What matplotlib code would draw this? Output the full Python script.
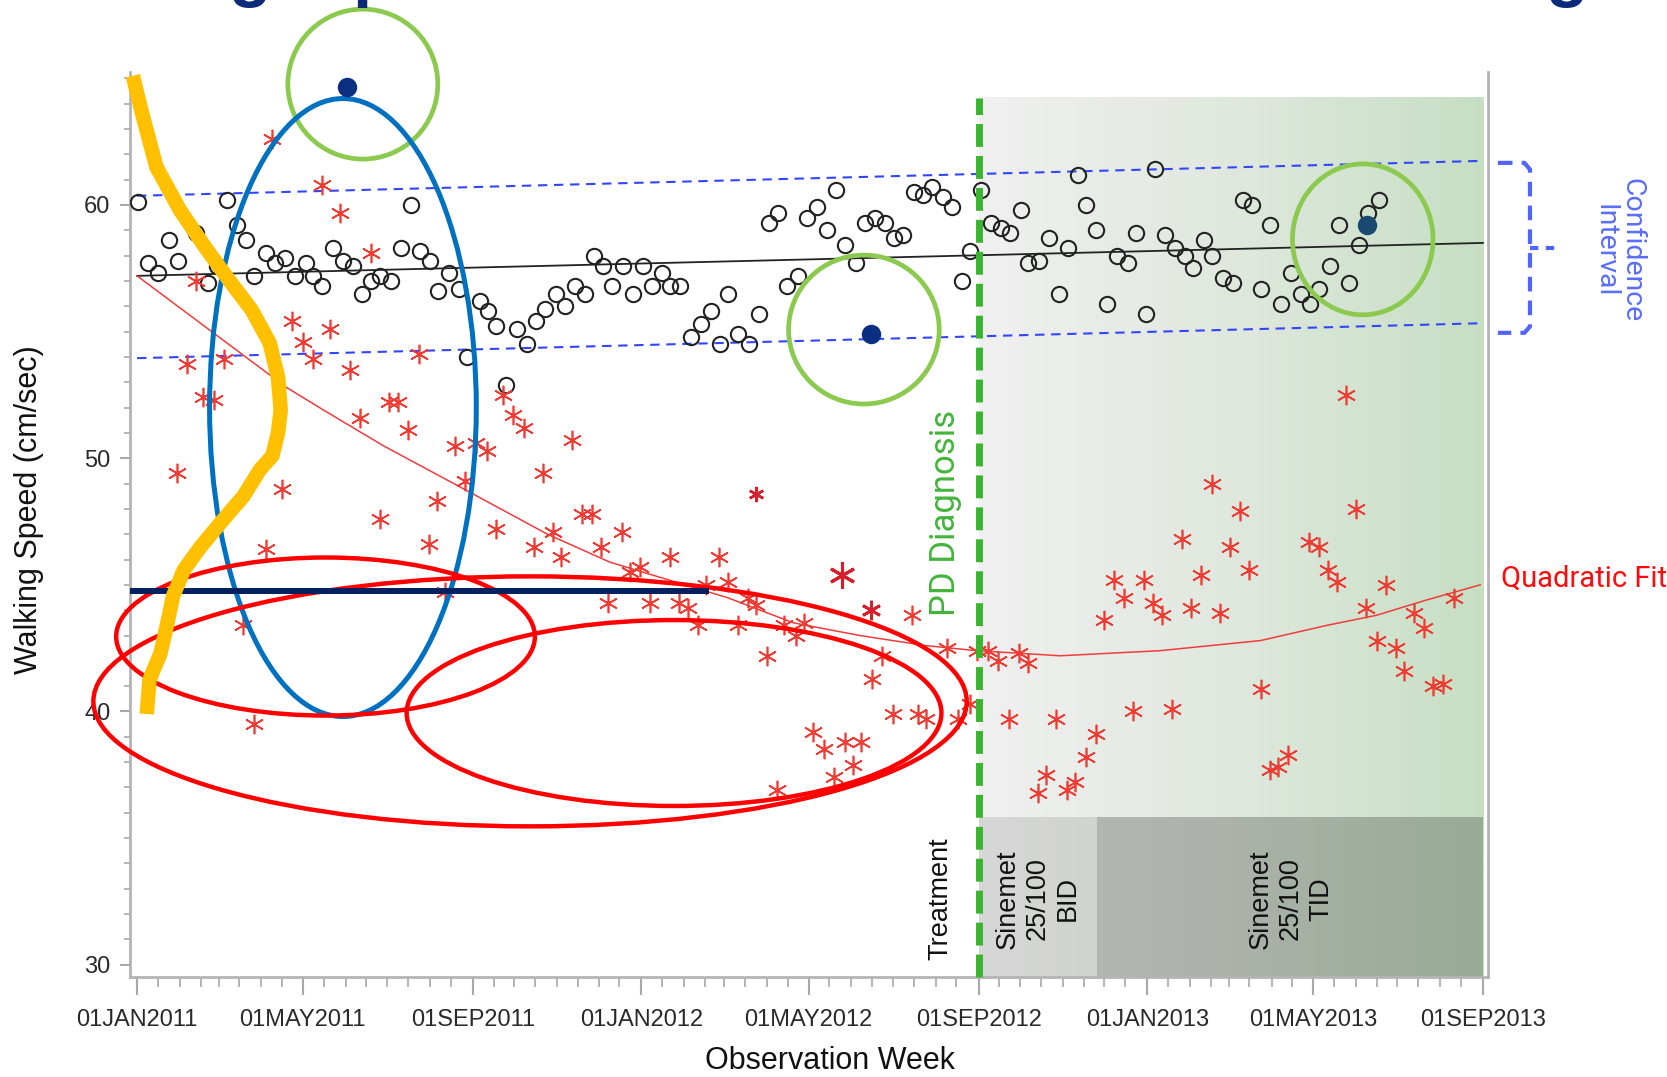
import numpy as np
import matplotlib
matplotlib.use('Agg')
import matplotlib.pyplot as plt
import matplotlib.dates as mdates
from matplotlib.patches import Ellipse, Rectangle
from matplotlib.colors import LinearSegmentedColormap
from matplotlib.ticker import MultipleLocator, FuncFormatter

plt.rcParams['font.family'] = ['Liberation Sans', 'DejaVu Sans']

# control subject, weekly walking speed (cm/sec), days after 01JAN2011
control_day = [1, 8, 15, 23, 30, 43, 51, 58, 65, 72,
               79, 85, 93, 100, 107, 114, 122, 127, 134, 142,
               149, 156, 163, 169, 176, 184, 191, 198, 205, 212,
               218, 226, 233, 239, 248, 254, 260, 267, 275, 282,
               289, 295, 303, 310, 317, 324, 331, 337, 344, 352,
               359, 366, 373, 380, 386, 393, 401, 408, 415, 422,
               428, 435, 443, 450, 457, 464, 470, 478, 485, 492,
               499, 506, 512, 520, 527, 534, 541, 548, 554, 562,
               569, 575, 583, 590, 597, 603, 611, 618, 625, 632,
               640, 645, 653, 660, 667, 674, 681, 687, 694, 702,
               709, 717, 723, 730, 737, 744, 751, 758, 764, 772,
               778, 786, 793, 800, 807, 813, 820, 828, 835, 842,
               849, 855, 863, 870, 877, 884, 891, 899]
control_speed = [60.1, 57.7, 57.3, 58.6, 57.8, 58.9, 56.9, 57.6, 60.2, 59.2,
                 58.6, 57.2, 58.1, 57.7, 57.9, 57.2, 57.7, 57.2, 56.8, 58.3,
                 57.8, 57.6, 56.5, 57.0, 57.2, 57.0, 58.3, 60.0, 58.2, 57.8,
                 56.6, 57.3, 56.7, 54.0, 56.2, 55.8, 55.2, 52.9, 55.1, 54.5,
                 55.4, 55.9, 56.5, 56.0, 56.8, 56.5, 58.0, 57.6, 56.8, 57.6,
                 56.5, 57.6, 56.8, 57.3, 56.8, 56.8, 54.8, 55.3, 55.8, 54.5,
                 56.5, 54.9, 54.5, 55.7, 59.3, 59.7, 56.8, 57.2, 59.5, 59.9,
                 59.0, 60.6, 58.4, 57.7, 59.3, 59.5, 59.3, 58.7, 58.8, 60.5,
                 60.4, 60.7, 60.3, 59.9, 57.0, 58.2, 60.6, 59.3, 59.1, 58.9,
                 59.8, 57.7, 57.8, 58.7, 56.5, 58.3, 61.2, 60.0, 59.0, 56.1,
                 58.0, 57.7, 58.9, 55.7, 61.4, 58.8, 58.3, 58.0, 57.5, 58.6,
                 58.0, 57.1, 56.9, 60.2, 60.0, 56.7, 59.2, 56.1, 57.3, 56.5,
                 56.1, 56.7, 57.6, 59.2, 56.9, 58.4, 59.7, 60.2]

# PD subject, weekly walking speed (cm/sec)
pd_day = [98, 134, 147, 169, 43, 112, 140, 120, 127, 154,
          36, 63, 204, 48, 56, 182, 189, 265, 161, 196,
          272, 280, 315, 230, 245, 253, 294, 29, 105, 237,
          217, 176, 260, 322, 329, 301, 287, 211, 336, 307,
          93, 223, 341, 77, 85, 351, 386, 421, 364, 357,
          371, 392, 399, 412, 428, 442, 448, 406, 435, 468,
          483, 477, 456, 561, 539, 532, 586, 608, 547, 565,
          571, 594, 603, 489, 497, 512, 524, 518, 504, 463,
          875, 778, 882, 798, 756, 791, 848, 855, 805, 862,
          868, 770, 707, 729, 714, 735, 742, 763, 784, 700,
          904, 889, 924, 931, 953, 897, 911, 917, 938, 945,
          813, 749, 721, 665, 631, 694, 687, 658, 679, 673,
          652, 833, 826, 820, 616, 623, 638, 645]
pd_speed = [62.6, 60.8, 59.7, 58.1, 57.0, 55.4, 55.1, 54.6, 53.9, 53.5,
            53.7, 53.9, 54.1, 52.4, 52.3, 52.2, 52.2, 52.5, 51.6, 51.1,
            51.7, 51.2, 50.7, 50.5, 50.6, 50.3, 49.4, 49.4, 48.8, 49.1,
            48.3, 47.6, 47.2, 47.8, 47.8, 47.1, 46.5, 46.6, 46.5, 46.1,
            46.4, 44.7, 44.3, 43.4, 39.5, 47.1, 46.1, 46.1, 45.7, 45.5,
            44.3, 44.3, 44.1, 45.0, 45.1, 44.5, 44.2, 43.4, 43.4, 43.4,
            43.5, 43.0, 42.2, 43.8, 42.2, 41.3, 42.5, 42.4, 39.9, 39.9,
            39.7, 39.7, 40.3, 39.2, 38.5, 38.8, 38.8, 37.9, 37.4, 36.9,
            52.5, 49.0, 48.0, 47.9, 46.8, 46.5, 46.7, 46.5, 45.6, 45.6,
            45.1, 45.4, 45.2, 45.2, 44.5, 44.3, 43.8, 44.1, 43.9, 43.6,
            45.0, 44.1, 43.9, 43.3, 44.5, 42.8, 42.5, 41.6, 41.0, 41.1,
            40.9, 40.1, 40.0, 39.7, 39.7, 39.1, 38.2, 37.5, 37.2, 36.9,
            36.8, 38.3, 37.8, 37.7, 42.4, 42.0, 42.3, 41.9]

# highlighted PD weeks
flag_day = [448, 510, 531]
flag_speed = [48.6, 45.4, 44.0]

# filled dots inside the green rings
dot_day = [152, 531, 890]
dot_speed = [64.65, 54.9, 59.2]

# linear fit of the control data and confidence band
fit_day = [0, 974]
fit_speed = [57.2, 58.5]
ci_upper = [60.36, 61.74]
ci_lower = [53.95, 55.33]

# quadratic fit of the PD data
quad_day = [0, 108, 135, 178, 236, 297, 342, 354, 427, 475,
            523, 571, 608, 668, 740, 813, 861, 897, 933, 972]
quad_speed = [57.2, 52.8, 51.9, 50.5, 48.8, 47.0, 45.9, 45.7, 44.5, 43.5,
              43.0, 42.6, 42.4, 42.2, 42.4, 42.8, 43.4, 43.8, 44.4, 45.0]

diagnosis_day = 609
treat_start = [609, 695]
treat_end = [695, 974]
treat_names = ['Sinemet\n25/100\nBID', 'Sinemet\n25/100\nTID']

# hand drawn yellow distribution curve
yellow_day = [-3, 3, 14, 31, 49, 67, 83, 96, 102, 104, 102, 98, 89, 77, 62,
              46, 34, 26, 22, 17, 9, 7]
yellow_speed = [65.1, 63.75, 61.5, 59.8, 58.35, 57.0, 55.85, 54.55, 53.2, 51.9,
                51.0, 50.1, 49.55, 48.5, 47.55, 46.5, 45.6, 44.55, 43.5, 42.3,
                41.25, 39.9]

base = mdates.date2num(np.datetime64('2011-01-01'))


def dx(days):
    return base + np.asarray(days, dtype=float)


ylo, yhi = 29.52, 65.25
light = ['Roboto', 'DejaVu Sans']

fig = plt.figure(figsize=(16.67, 10.77), dpi=100)
ax = fig.add_axes([0.078, 0.0929, 0.8146, 0.8403])

# shaded post-diagnosis period
shade = LinearSegmentedColormap.from_list('shade', ['#f0f0f0', '#e0e8de', '#c6dfc3'])
ax.imshow(np.linspace(0, 1, 256)[None, :], cmap=shade, aspect='auto',
          extent=[dx(diagnosis_day), dx(974), ylo, 64.26], zorder=0)

alphas = [0.1, 0.23]
label_day = [652, 835]
for s, e, name, a, ld in zip(treat_start, treat_end, treat_names, alphas, label_day):
    ax.add_patch(Rectangle((dx(s), ylo), e - s, 35.85 - ylo, facecolor='black',
                           alpha=a, edgecolor='none', zorder=0.5))
    ax.text(dx(ld), 32.6, name, rotation=90, ha='center', va='center',
            fontsize=19.5, linespacing=1.2, color='#111111', zorder=3)
ax.text(dx(581), 32.6, 'Treatment', rotation=90, ha='center', va='center',
        fontsize=19.5, color='#111111', zorder=3)

# fits
ax.plot(dx(fit_day), ci_upper, color='#3246ff', lw=1.5, dashes=(4.5, 3.2), zorder=2)
ax.plot(dx(fit_day), ci_lower, color='#3246ff', lw=1.5, dashes=(4.5, 3.2), zorder=2)
ax.plot(dx(fit_day), fit_speed, color='#222222', lw=1.3, zorder=2)
ax.plot(dx(quad_day), quad_speed, color='#f03c3c', lw=1.1, zorder=2)

# observations
ax.plot(dx(control_day), control_speed, ls='none', marker='o', ms=11, mfc='none',
        mec='#222222', mew=1.5, zorder=3)
ax.plot(dx(pd_day), pd_speed, ls='none', marker=(6, 2, 0), ms=14, color='#ee3b33',
        mew=1.2, zorder=3)
for d, v, ms, mw in zip(flag_day, flag_speed, [11, 19, 14], [1.8, 2.2, 2.0]):
    ax.plot(dx(d), v, marker=(6, 2, 0), ms=ms, color='#d81e2a', mew=mw, zorder=3)

# diagnosis line
ax.plot([dx(diagnosis_day)] * 2, [ylo, 64.22], color='#3cb432', lw=5,
        dashes=(3.3, 1.3), zorder=6, clip_on=False)
ax.text(dx(585), 47.84, 'PD Diagnosis', rotation=90, ha='center', va='center',
        fontsize=25, color='#44b43c', family=light)

# overlay annotations
ring_day = [163.4, 526, 887]
ring_speed = [64.77, 55.08, 58.64]
ring_w = [108.5, 109, 101.7]
ring_h = [5.92, 5.88, 5.96]
for d, v, w, h in zip(ring_day, ring_speed, ring_w, ring_h):
    ax.add_patch(Ellipse((dx(d), v), w, h, fill=False, ec='#8cc94f', lw=3.4,
                         zorder=7, clip_on=False))
dot_colors = ['#0a2f80', '#0a2f80', '#1b4a70']
for d, v, c in zip(dot_day, dot_speed, dot_colors):
    ax.plot(dx(d), v, marker='o', ms=14, color=c, mec='none', zorder=8, clip_on=False)

ax.add_patch(Ellipse((dx(149), 52.0), 193, 24.4, fill=False, ec='#0070c0', lw=3.6,
                     zorder=7, clip_on=False))
red_ell = [(136.4, 42.96, 303, 6.24), (284.4, 40.4, 632, 9.87), (388.6, 39.94, 387, 7.34)]
for d, v, w, h in red_ell:
    ax.add_patch(Ellipse((dx(d), v), w, h, fill=False, ec='#ff0000', lw=3.2,
                         zorder=7, clip_on=False))
ax.plot(dx([-5, 414]), [44.76, 44.76], color='#002060', lw=4.3, zorder=7,
        solid_capstyle='butt', clip_on=False)
ax.plot(dx(yellow_day), yellow_speed, color='#ffc000', lw=10.5, zorder=7,
        solid_capstyle='butt', solid_joinstyle='round', clip_on=False)

# right side labels
ax.text(dx(987), 45.24, 'Quadratic Fit', ha='left', va='center', fontsize=21,
        color='#ff0a0a', family=light, clip_on=False)
ax.text(dx(1072), 58.2, 'Confidence\nInterval', rotation=270, ha='center', va='center',
        multialignment='center', fontsize=20.5, color='#5a6ef8',
        family=light, linespacing=1.0, clip_on=False)
ax.plot(dx([984.8, 1004, 1008, 1008, 1004, 984.8]), [61.66, 61.66, 61.4, 55.2, 54.95, 54.95],
        color='#5064ff', lw=3, dashes=(3.5, 2.2), clip_on=False, zorder=7)
ax.plot(dx([1008, 1029]), [58.3, 58.3], color='#5064ff', lw=3, dashes=(2, 1.8),
        clip_on=False, zorder=7)

# axes
ax.set_xlim(base - 5.07, base + 977.6)
ax.set_ylim(ylo, yhi)
ax.xaxis.set_major_locator(mdates.MonthLocator(bymonth=[1, 5, 9]))
ax.xaxis.set_minor_locator(mdates.MonthLocator(bymonthday=[1, 16]))
ax.xaxis.set_major_formatter(FuncFormatter(lambda x, p: mdates.num2date(x).strftime('%d%b%Y').upper()))
ax.yaxis.set_major_locator(MultipleLocator(10))
ax.yaxis.set_minor_locator(MultipleLocator(1))
ax.tick_params(axis='x', which='major', length=13, width=1.5, color='#a8a8a8', pad=10,
               labelsize=17, labelcolor='#2a2a2a')
ax.tick_params(axis='x', which='minor', length=7, width=1.2, color='#a8a8a8')
ax.tick_params(axis='y', which='major', length=7, width=1.5, color='#a8a8a8', pad=7,
               labelsize=17, labelcolor='#2a2a2a')
ax.tick_params(axis='y', which='minor', length=4, width=1.2, color='#a8a8a8')
for side in ['left', 'bottom', 'right']:
    ax.spines[side].set_color('#b4b4b8')
    ax.spines[side].set_linewidth(2)
ax.spines['top'].set_visible(False)

ax.set_xlabel('Observation Week', fontsize=22, color='#111111', va='center')
ax.xaxis.set_label_coords(0.5155, -0.093)
ax.set_ylabel('Walking Speed (cm/sec)', fontsize=22, color='#111111', va='center')
ax.yaxis.set_label_coords(-0.0744, 0.516)

# bottoms of the large title letters, cut off at the top edge as in the slide
for x, ch in [(249, 'g'), (374, 'p'), (1566, 'g')]:
    fig.text(x / 1667, 1 + 6 / 1077, ch, ha='center', va='baseline', fontsize=50,
             fontweight='bold', color='#0b2a78')

fig.savefig('out.png', dpi=100)
